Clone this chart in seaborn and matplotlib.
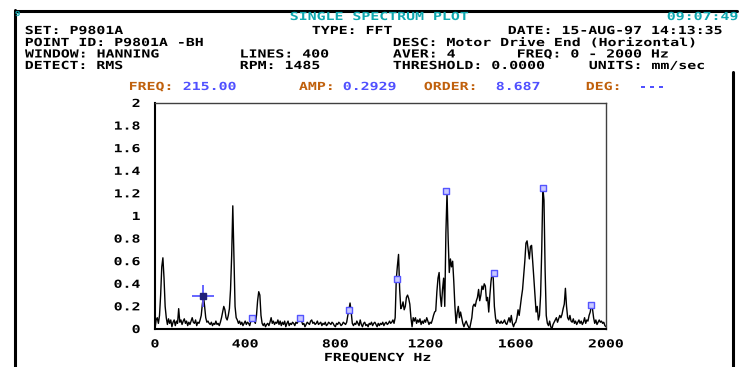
import numpy as np
import pandas as pd
import matplotlib
matplotlib.use("Agg")
import matplotlib.pyplot as plt
import seaborn as sns
from matplotlib.lines import Line2D
from matplotlib.patheffects import AbstractPathEffect
from matplotlib.transforms import Affine2D
from matplotlib.ticker import MultipleLocator, FixedLocator, FixedFormatter

# ---------------- data ----------------
FMAX = 2000
LINES = 400
AMPS = [
    0.00, 0.08, 0.10, 0.05, 0.12, 0.30, 0.55, 0.63, 0.45, 0.20,   # 0-45
    0.10, 0.04, 0.09, 0.05, 0.08, 0.02, 0.06, 0.08, 0.03, 0.07,   # 50-95
    0.05, 0.18, 0.06, 0.08, 0.04, 0.07, 0.09, 0.05, 0.07, 0.03,   # 100-145
    0.06, 0.04, 0.07, 0.10, 0.06, 0.05, 0.08, 0.03, 0.06, 0.05,   # 150-195
    0.08, 0.12, 0.22, 0.29, 0.20, 0.10, 0.06, 0.07, 0.05, 0.04,   # 200-245
    0.06, 0.03, 0.05, 0.04, 0.07, 0.04, 0.05, 0.03, 0.06, 0.10,   # 250-295
    0.15, 0.20, 0.17, 0.10, 0.08, 0.12, 0.18, 0.35, 0.65, 1.09,   # 300-345
    0.65, 0.20, 0.10, 0.08, 0.05, 0.07, 0.04, 0.06, 0.03, 0.05,   # 350-395
    0.07, 0.04, 0.06, 0.05, 0.03, 0.07, 0.09, 0.10, 0.07, 0.05,   # 400-445
    0.12, 0.25, 0.33, 0.30, 0.12, 0.05, 0.03, 0.05, 0.02, 0.04,   # 450-495
    0.05, 0.03, 0.06, 0.10, 0.05, 0.07, 0.04, 0.06, 0.05, 0.08,   # 500-545
    0.04, 0.07, 0.03, 0.06, 0.04, 0.07, 0.02, 0.05, 0.07, 0.03,   # 550-595
    0.05, 0.04, 0.06, 0.05, 0.03, 0.06, 0.05, 0.07, 0.08, 0.10,   # 600-645
    0.07, 0.04, 0.05, 0.02, 0.04, 0.06, 0.05, 0.04, 0.07, 0.08,   # 650-695
    0.05, 0.06, 0.04, 0.05, 0.07, 0.04, 0.05, 0.06, 0.03, 0.05,   # 700-745
    0.04, 0.06, 0.03, 0.04, 0.06, 0.05, 0.04, 0.06, 0.05, 0.03,   # 750-795
    0.02, 0.05, 0.04, 0.06, 0.05, 0.03, 0.04, 0.06, 0.05, 0.04,   # 800-845
    0.06, 0.12, 0.17, 0.23, 0.15, 0.05, 0.03, 0.05, 0.04, 0.07,   # 850-895
    0.05, 0.03, 0.08, 0.04, 0.02, 0.05, 0.06, 0.03, 0.04, 0.02,   # 900-945
    0.05, 0.04, 0.06, 0.03, 0.05, 0.06, 0.04, 0.02, 0.05, 0.03,   # 950-995
    0.05, 0.04, 0.06, 0.03, 0.05, 0.06, 0.04, 0.05, 0.07, 0.05,   # 1000-1045
    0.06, 0.08, 0.05, 0.10, 0.44, 0.56, 0.66, 0.35, 0.18, 0.20,   # 1050-1095
    0.24, 0.17, 0.20, 0.28, 0.30, 0.27, 0.22, 0.10, 0.02, 0.10,   # 1100-1145
    0.07, 0.10, 0.05, 0.08, 0.06, 0.09, 0.04, 0.07, 0.05, 0.08,   # 1150-1195
    0.06, 0.10, 0.07, 0.04, 0.06, 0.05, 0.08, 0.12, 0.15, 0.16,   # 1200-1245
    0.33, 0.45, 0.50, 0.30, 0.20, 0.35, 0.45, 0.20, 0.85, 1.21,   # 1250-1295
    0.80, 0.50, 0.62, 0.55, 0.60, 0.42, 0.20, 0.05, 0.14, 0.20,   # 1300-1345
    0.10, 0.15, 0.10, 0.05, 0.02, 0.05, 0.07, 0.04, 0.02, 0.00,   # 1350-1395
    0.05, 0.10, 0.20, 0.22, 0.20, 0.25, 0.28, 0.35, 0.25, 0.30,   # 1400-1445
    0.38, 0.35, 0.40, 0.38, 0.25, 0.28, 0.15, 0.30, 0.42, 0.50,   # 1450-1495
    0.45, 0.20, 0.10, 0.05, 0.08, 0.06, 0.05, 0.07, 0.05, 0.06,   # 1500-1545
    0.08, 0.05, 0.04, 0.07, 0.10, 0.06, 0.12, 0.05, 0.02, 0.05,   # 1550-1595
    0.06, 0.10, 0.17, 0.12, 0.20, 0.28, 0.35, 0.48, 0.60, 0.76,   # 1600-1645
    0.78, 0.70, 0.62, 0.73, 0.74, 0.60, 0.45, 0.30, 0.15, 0.20,   # 1650-1695
    0.08, 0.12, 0.30, 0.70, 1.25, 1.14, 0.52, 0.12, 0.05, 0.03,   # 1700-1745
    0.07, 0.02, 0.00, 0.04, 0.06, 0.08, 0.10, 0.06, 0.09, 0.12,   # 1750-1795
    0.10, 0.13, 0.18, 0.22, 0.36, 0.20, 0.10, 0.08, 0.12, 0.07,   # 1800-1845
    0.06, 0.09, 0.05, 0.07, 0.04, 0.06, 0.08, 0.05, 0.07, 0.04,   # 1850-1895
    0.06, 0.10, 0.05, 0.08, 0.07, 0.12, 0.15, 0.21, 0.18, 0.10,   # 1900-1945
    0.05, 0.08, 0.04, 0.06, 0.08, 0.06, 0.07, 0.05, 0.06, 0.03,   # 1950-1995
    0.02,                                                         # 2000
]
HARMONIC_FREQS = [430, 645, 860, 1075, 1290, 1505, 1720, 1935]
HARMONIC_AMPS = [0.10, 0.10, 0.17, 0.44, 1.22, 0.50, 1.25, 0.21]
CURSOR_FREQ = 215.0
CURSOR_AMP = 0.2929

X_TICKS = [0, 400, 800, 1200, 1600, 2000]
X_LABELS = ["0", "400", "800", "1200", "1600", "2000"]
Y_TICKS = [0, 0.2, 0.4, 0.6, 0.8, 1.0, 1.2, 1.4, 1.6, 1.8, 2.0]
Y_LABELS = ["0", "0.2", "0.4", "0.6", "0.8", "1", "1.2", "1.4", "1.6", "1.8", "2"]

freqs = np.linspace(0, FMAX, LINES + 1)
df = pd.DataFrame({"freq": freqs, "amp": AMPS})

# ---------------- style ----------------
sns.set_style("white")
plt.rcParams["font.family"] = ["DejaVu Sans Mono"]
plt.rcParams["font.weight"] = "bold"

W, H = 740, 367
fig = plt.figure(figsize=(W / 100, H / 100), dpi=100)
fig.patch.set_facecolor("white")

FS = 8
CELL = 8.95                       # character cell of the terminal font, px
SX = CELL / (0.602 * FS * 100 / 72)  # horizontal widening of the mono font


class StretchX(AbstractPathEffect):
    """Widen rendered glyphs horizontally (terminal-like wide font)."""

    def __init__(self, sx, anchor="left"):
        super().__init__()
        self._sx = sx
        self._anchor = anchor

    def draw_path(self, renderer, gc, tpath, affine, rgbFace=None):
        ext = tpath.get_extents(affine)
        if self._anchor == "left":
            x0 = ext.x0
        elif self._anchor == "right":
            x0 = ext.x1
        else:
            x0 = 0.5 * (ext.x0 + ext.x1)
        a = affine + Affine2D().translate(-x0, 0).scale(self._sx, 1).translate(x0, 0)
        renderer.draw_path(gc, tpath, a, rgbFace)


def fx(px):
    return px / W


def fy(py):
    return 1 - py / H


ax = fig.add_axes([fx(155), fy(329), fx(606) - fx(155), fy(103) - fy(329)])
ax.set_facecolor("white")

sns.lineplot(data=df, x="freq", y="amp", color="black", lw=1.0, ax=ax,
             estimator=None)

# harmonic markers
sns.scatterplot(x=HARMONIC_FREQS, y=HARMONIC_AMPS, marker="s", s=24,
                facecolor="#c8c8ff", edgecolor="#5555ff", linewidth=1.0,
                ax=ax, zorder=5)
# cursor
ax.plot([CURSOR_FREQ, CURSOR_FREQ], [0.21, 0.27], color="#d07818", lw=1.2,
        zorder=4)
ax.plot([CURSOR_FREQ], [CURSOR_AMP], marker="+", ms=16, mew=1.2,
        color="#4c4cff", zorder=6)
ax.plot([CURSOR_FREQ], [CURSOR_AMP], marker="s", ms=4, color="#20207a",
        zorder=7)

ax.set_xlim(0, FMAX)
ax.set_ylim(0, 2)
ax.set_xlabel("")
ax.set_ylabel("")

ax.xaxis.set_major_locator(FixedLocator(X_TICKS))
ax.xaxis.set_major_formatter(FixedFormatter(X_LABELS))
ax.xaxis.set_minor_locator(MultipleLocator(50))
ax.yaxis.set_major_locator(FixedLocator(Y_TICKS))
ax.yaxis.set_major_formatter(FixedFormatter(Y_LABELS))
ax.yaxis.set_minor_locator(MultipleLocator(0.05))

ax.tick_params(axis="both", which="major", direction="out", length=4,
               width=1, color="black", labelsize=FS, labelcolor="black")
ax.tick_params(axis="both", which="minor", direction="out", length=2.5,
               width=1, color="black")
ax.tick_params(axis="x", which="major", pad=3.5)
ax.tick_params(axis="y", which="major", pad=6.5)
for lab in ax.get_xticklabels():
    lab.set_fontweight("bold")
    lab.set_path_effects([StretchX(SX, "center")])
for lab in ax.get_yticklabels():
    lab.set_fontweight("bold")
    lab.set_path_effects([StretchX(SX, "right")])

for side in ["left", "bottom"]:
    ax.spines[side].set_color("black")
    ax.spines[side].set_linewidth(1.5)
for side in ["top", "right"]:
    ax.spines[side].set_color("#404040")
    ax.spines[side].set_linewidth(1.0)

# ---------------- frame ----------------
frame_kw = dict(color="black", lw=2.2, transform=fig.transFigure)
fig.add_artist(Line2D([fx(15), fx(737)], [fy(10.5), fy(10.5)], **frame_kw))
fig.add_artist(Line2D([fx(15), fx(15)], [fy(10), fy(367)], **frame_kw))
fig.add_artist(Line2D([fx(733), fx(733)], [fy(72), fy(367)], **frame_kw))

# ---------------- header texts ----------------
CYAN = "#10a8b0"
ORANGE = "#c0600c"
BLUE = "#5050ff"


def t(px, py, s, color="black", fs=FS, ha="left"):
    fig.text(fx(px), fy(py), s, color=color, ha=ha, va="center",
             fontsize=fs, fontweight="bold", family="DejaVu Sans Mono",
             path_effects=[StretchX(SX, "center" if ha == "center" else "left")])


t(15, 14, "9", CYAN, fs=5)
t(290, 17, "SINGLE SPECTRUM PLOT", CYAN)
t(667, 17, "09:07:49", CYAN)

t(25, 31, "SET: P9801A")
t(312, 31, "TYPE: FFT")
t(508, 31, "DATE: 15-AUG-97 14:13:35")

t(25, 43, "POINT ID: P9801A -BH")
t(393, 43, "DESC: Motor Drive End (Horizontal)")

t(25, 54.5, "WINDOW: HANNING")
t(240, 54.5, "LINES: 400")
t(393, 54.5, "AVER: 4")
t(517, 54.5, "FREQ: 0 - 2000 Hz")

t(25, 66, "DETECT: RMS")
t(240, 66, "RPM: 1485")
t(393, 66, "THRESHOLD: 0.0000")
t(589, 66, "UNITS: mm/sec")

t(129, 87, "FREQ:", ORANGE)
t(183, 87, "215.00", BLUE)
t(299, 87, "AMP:", ORANGE)
t(343, 87, "0.2929", BLUE)
t(424, 87, "ORDER:", ORANGE)
t(496, 87, "8.687", BLUE)
t(586, 87, "DEG:", ORANGE)
t(639, 87, "---", BLUE)

t(378, 358, "FREQUENCY Hz", ha="center")

fig.savefig("out.png", dpi=100, facecolor="white")
